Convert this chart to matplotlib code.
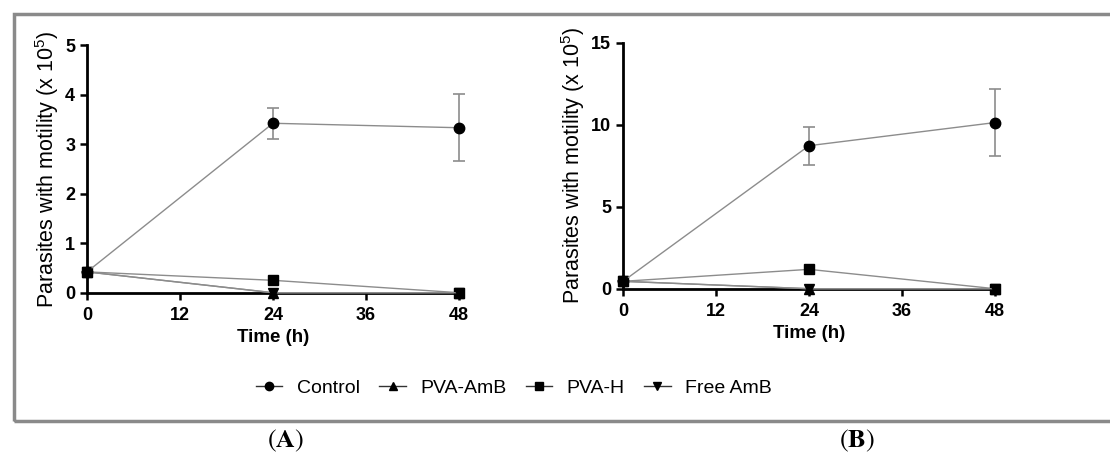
import matplotlib
matplotlib.use("Agg")
import matplotlib.pyplot as plt
from matplotlib.patches import Rectangle
from matplotlib.lines import Line2D

plt.rcParams['font.family'] = ['Liberation Sans', 'DejaVu Sans']
plt.rcParams['mathtext.fontset'] = 'custom'
plt.rcParams['mathtext.rm'] = 'Liberation Sans'
plt.rcParams['mathtext.it'] = 'Liberation Sans:italic'
plt.rcParams['mathtext.bf'] = 'Liberation Sans:bold'

time = [0, 24, 48]
series = ["Control", "PVA-AmB", "PVA-H", "Free AmB"]
markers = ["o", "^", "s", "v"]

# Panel A
a_control = [0.42, 3.42, 3.33]
a_control_err = [0.0, 0.31, 0.68]
a_pva_amb = [0.42, 0.0, 0.0]
a_pva_h = [0.42, 0.25, 0.0]
a_free_amb = [0.42, 0.0, 0.0]

# Panel B
b_control = [0.45, 8.72, 10.13]
b_control_err = [0.0, 1.15, 2.03]
b_pva_amb = [0.45, 0.0, 0.0]
b_pva_h = [0.45, 1.18, 0.0]
b_free_amb = [0.45, 0.0, 0.0]

W, H = 1110, 457
fig = plt.figure(figsize=(W / 100, H / 100), dpi=100)

# gray frame
fig.patches.append(Rectangle((13.5 / W, 1 - 421 / H), (1115 - 13.5) / W, (421 - 13.5) / H,
                             transform=fig.transFigure, fill=False,
                             edgecolor='#8a8a8a', linewidth=2.5))

line_col = '#8c8c8c'


def panel(rect, ctrl, ctrl_err, amb, ph, free, ymax, yticks):
    ax = fig.add_axes(rect)
    data = [amb, ph, free]
    for vals, m in zip(data, markers[1:]):
        ax.plot(time, vals, color=line_col, lw=1.0, marker=m, ms=7,
                mfc='black', mec='black', clip_on=False, zorder=3)
    ax.errorbar(time, ctrl, yerr=ctrl_err, color=line_col, lw=1.0, marker='o', ms=7.5,
                mfc='black', mec='black', capsize=4, elinewidth=1.2, capthick=1.2,
                clip_on=False, zorder=4)
    ax.set_xlim(0, 48)
    ax.set_ylim(0, ymax)
    ax.set_xticks([0, 12, 24, 36, 48])
    ax.set_yticks(yticks)
    for s in ['top', 'right']:
        ax.spines[s].set_visible(False)
    for s in ['left', 'bottom']:
        ax.spines[s].set_linewidth(2.0)
        ax.spines[s].set_color('black')
    ax.tick_params(direction='out', length=5, width=1.8, labelsize=13)
    ax.tick_params(axis='x', pad=5.5)
    ax.tick_params(axis='y', pad=3.5)
    for lab in ax.get_xticklabels() + ax.get_yticklabels():
        lab.set_fontweight('bold')
    ax.set_xlabel('Time (h)', fontsize=13.5, fontweight='bold', labelpad=3.5)
    ax.set_ylabel('Parasites with motility (x 10$^{5}$)', fontsize=15.5, labelpad=3)
    return ax


panel([87 / W, 1 - 292.7 / H, 372 / W, 247.7 / H],
      a_control, a_control_err, a_pva_amb, a_pva_h, a_free_amb, 5, [0, 1, 2, 3, 4, 5])
panel([623 / W, 1 - 288.7 / H, 372 / W, 246 / H],
      b_control, b_control_err, b_pva_amb, b_pva_h, b_free_amb, 15, [0, 5, 10, 15])

handles = [Line2D([], [], color='#333333', lw=1.0, marker=m, ms=6, mfc='black', mec='black')
           for m in markers]
fig.legend(handles, series, loc='center', bbox_to_anchor=(514 / W, 1 - 388 / H), ncol=4,
           frameon=False, fontsize=14, handlelength=1.35, columnspacing=1.0,
           handletextpad=0.75, borderpad=0.2)

fig.text(286 / W, 1 - 441 / H, r'$(\mathbf{A})$', ha='center', va='center', fontsize=19,
         math_fontfamily='stix')
fig.text(857 / W, 1 - 441 / H, r'$(\mathbf{B})$', ha='center', va='center', fontsize=19,
         math_fontfamily='stix')

fig.savefig('out.png', dpi=100)
